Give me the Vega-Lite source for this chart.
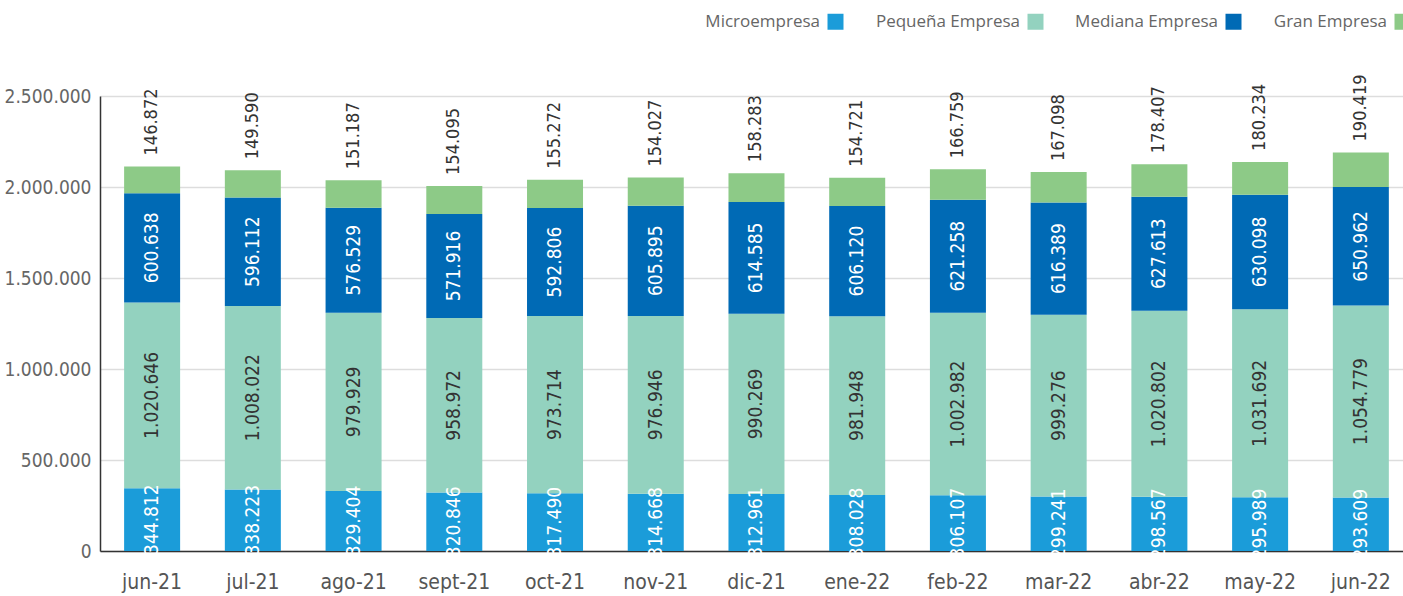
{
  "$schema": "https://vega.github.io/schema/vega-lite/v6.json",
  "autosize": {"type": "none"},
  "padding": {"left": 100, "top": 96, "right": 0, "bottom": 45},
  "width": 1303,
  "height": 455,
  "background": "white",
  "config": {
    "locale": {"number": {"decimal": ",", "thousands": ".", "grouping": [3], "currency": ["", " €"]}},
    "view": {"stroke": null},
    "font": "DejaVu Sans Condensed, Roboto, sans-serif"
  },
  "data": {
    "values": [
      {"mes": "jun-21", "serie": "Microempresa", "orden": 1, "valor": 344812},
      {"mes": "jun-21", "serie": "Pequeña Empresa", "orden": 2, "valor": 1020646},
      {"mes": "jun-21", "serie": "Mediana Empresa", "orden": 3, "valor": 600638},
      {"mes": "jun-21", "serie": "Gran Empresa", "orden": 4, "valor": 146872},
      {"mes": "jul-21", "serie": "Microempresa", "orden": 1, "valor": 338223},
      {"mes": "jul-21", "serie": "Pequeña Empresa", "orden": 2, "valor": 1008022},
      {"mes": "jul-21", "serie": "Mediana Empresa", "orden": 3, "valor": 596112},
      {"mes": "jul-21", "serie": "Gran Empresa", "orden": 4, "valor": 149590},
      {"mes": "ago-21", "serie": "Microempresa", "orden": 1, "valor": 329404},
      {"mes": "ago-21", "serie": "Pequeña Empresa", "orden": 2, "valor": 979929},
      {"mes": "ago-21", "serie": "Mediana Empresa", "orden": 3, "valor": 576529},
      {"mes": "ago-21", "serie": "Gran Empresa", "orden": 4, "valor": 151187},
      {"mes": "sept-21", "serie": "Microempresa", "orden": 1, "valor": 320846},
      {"mes": "sept-21", "serie": "Pequeña Empresa", "orden": 2, "valor": 958972},
      {"mes": "sept-21", "serie": "Mediana Empresa", "orden": 3, "valor": 571916},
      {"mes": "sept-21", "serie": "Gran Empresa", "orden": 4, "valor": 154095},
      {"mes": "oct-21", "serie": "Microempresa", "orden": 1, "valor": 317490},
      {"mes": "oct-21", "serie": "Pequeña Empresa", "orden": 2, "valor": 973714},
      {"mes": "oct-21", "serie": "Mediana Empresa", "orden": 3, "valor": 592806},
      {"mes": "oct-21", "serie": "Gran Empresa", "orden": 4, "valor": 155272},
      {"mes": "nov-21", "serie": "Microempresa", "orden": 1, "valor": 314668},
      {"mes": "nov-21", "serie": "Pequeña Empresa", "orden": 2, "valor": 976946},
      {"mes": "nov-21", "serie": "Mediana Empresa", "orden": 3, "valor": 605895},
      {"mes": "nov-21", "serie": "Gran Empresa", "orden": 4, "valor": 154027},
      {"mes": "dic-21", "serie": "Microempresa", "orden": 1, "valor": 312961},
      {"mes": "dic-21", "serie": "Pequeña Empresa", "orden": 2, "valor": 990269},
      {"mes": "dic-21", "serie": "Mediana Empresa", "orden": 3, "valor": 614585},
      {"mes": "dic-21", "serie": "Gran Empresa", "orden": 4, "valor": 158283},
      {"mes": "ene-22", "serie": "Microempresa", "orden": 1, "valor": 308028},
      {"mes": "ene-22", "serie": "Pequeña Empresa", "orden": 2, "valor": 981948},
      {"mes": "ene-22", "serie": "Mediana Empresa", "orden": 3, "valor": 606120},
      {"mes": "ene-22", "serie": "Gran Empresa", "orden": 4, "valor": 154721},
      {"mes": "feb-22", "serie": "Microempresa", "orden": 1, "valor": 306107},
      {"mes": "feb-22", "serie": "Pequeña Empresa", "orden": 2, "valor": 1002982},
      {"mes": "feb-22", "serie": "Mediana Empresa", "orden": 3, "valor": 621258},
      {"mes": "feb-22", "serie": "Gran Empresa", "orden": 4, "valor": 166759},
      {"mes": "mar-22", "serie": "Microempresa", "orden": 1, "valor": 299241},
      {"mes": "mar-22", "serie": "Pequeña Empresa", "orden": 2, "valor": 999276},
      {"mes": "mar-22", "serie": "Mediana Empresa", "orden": 3, "valor": 616389},
      {"mes": "mar-22", "serie": "Gran Empresa", "orden": 4, "valor": 167098},
      {"mes": "abr-22", "serie": "Microempresa", "orden": 1, "valor": 298567},
      {"mes": "abr-22", "serie": "Pequeña Empresa", "orden": 2, "valor": 1020802},
      {"mes": "abr-22", "serie": "Mediana Empresa", "orden": 3, "valor": 627613},
      {"mes": "abr-22", "serie": "Gran Empresa", "orden": 4, "valor": 178407},
      {"mes": "may-22", "serie": "Microempresa", "orden": 1, "valor": 295989},
      {"mes": "may-22", "serie": "Pequeña Empresa", "orden": 2, "valor": 1031692},
      {"mes": "may-22", "serie": "Mediana Empresa", "orden": 3, "valor": 630098},
      {"mes": "may-22", "serie": "Gran Empresa", "orden": 4, "valor": 180234},
      {"mes": "jun-22", "serie": "Microempresa", "orden": 1, "valor": 293609},
      {"mes": "jun-22", "serie": "Pequeña Empresa", "orden": 2, "valor": 1054779},
      {"mes": "jun-22", "serie": "Mediana Empresa", "orden": 3, "valor": 650962},
      {"mes": "jun-22", "serie": "Gran Empresa", "orden": 4, "valor": 190419}
    ]
  },
  "transform": [
    {"stack": "valor", "groupby": ["mes"], "sort": [{"field": "orden", "order": "ascending"}], "as": ["y0", "y1"]},
    {"calculate": "(datum.y0 + datum.y1) / 2", "as": "ymid"}
  ],
  "encoding": {
    "x": {
      "field": "mes",
      "type": "nominal",
      "sort": null,
      "scale": {"paddingInner": 0.444, "paddingOuter": 0.19, "align": 0.63},
      "axis": {
        "title": null,
        "labelAngle": 0,
        "labelFontSize": 21,
        "labelColor": "#555555",
        "labelPadding": 20,
        "ticks": false,
        "domainColor": "#333333",
        "domainWidth": 1.5
      }
    }
  },
  "layer": [
    {
      "mark": {"type": "bar"},
      "encoding": {
        "y": {
          "field": "y1",
          "type": "quantitative",
          "scale": {"domain": [0, 2500000], "nice": false},
          "axis": {
            "title": null,
            "values": [0, 500000, 1000000, 1500000, 2000000, 2500000],
            "format": ",d",
            "labelFontSize": 19,
            "labelColor": "#666666",
            "labelPadding": 9,
            "ticks": false,
            "domain": true,
            "domainColor": "#333333",
            "domainWidth": 1.5,
            "gridColor": "#dddddd",
            "gridWidth": 1.5
          }
        },
        "y2": {"field": "y0"},
        "color": {
          "field": "serie",
          "type": "nominal",
          "scale": {
            "domain": ["Microempresa", "Pequeña Empresa", "Mediana Empresa", "Gran Empresa"],
            "range": ["#1b9cd9", "#93d2bf", "#006ab5", "#8dca87"]
          },
          "legend": {
            "title": null,
            "orient": "none",
            "direction": "horizontal",
            "legendX": 727,
            "legendY": -83,
            "symbolType": "square",
            "symbolSize": 256,
            "symbolStrokeWidth": 0,
            "labelFont": "Open Sans",
            "labelFontSize": 17,
            "labelColor": "#666666",
            "labelAlign": "right",
            "labelOffset": -24,
            "columnPadding": 31,
            "labelLimit": 300
          }
        }
      }
    },
    {
      "transform": [{"filter": {"field": "serie", "oneOf": ["Microempresa", "Mediana Empresa"]}}],
      "mark": {"type": "text", "angle": 270, "align": "center", "baseline": "middle", "fontSize": 19, "color": "white"},
      "encoding": {
        "y": {"field": "ymid", "type": "quantitative"},
        "text": {"field": "valor", "type": "quantitative", "format": ",d"}
      }
    },
    {
      "transform": [{"filter": {"field": "serie", "equal": "Pequeña Empresa"}}],
      "mark": {"type": "text", "angle": 270, "align": "center", "baseline": "middle", "fontSize": 19, "color": "#333333"},
      "encoding": {
        "y": {"field": "ymid", "type": "quantitative"},
        "text": {"field": "valor", "type": "quantitative", "format": ",d"}
      }
    },
    {
      "transform": [{"filter": {"field": "serie", "equal": "Gran Empresa"}}],
      "mark": {"type": "text", "angle": 270, "align": "left", "baseline": "middle", "fontSize": 18, "color": "#333333", "yOffset": -11},
      "encoding": {
        "y": {"field": "y1", "type": "quantitative"},
        "text": {"field": "valor", "type": "quantitative", "format": ",d"}
      }
    }
  ]
}
